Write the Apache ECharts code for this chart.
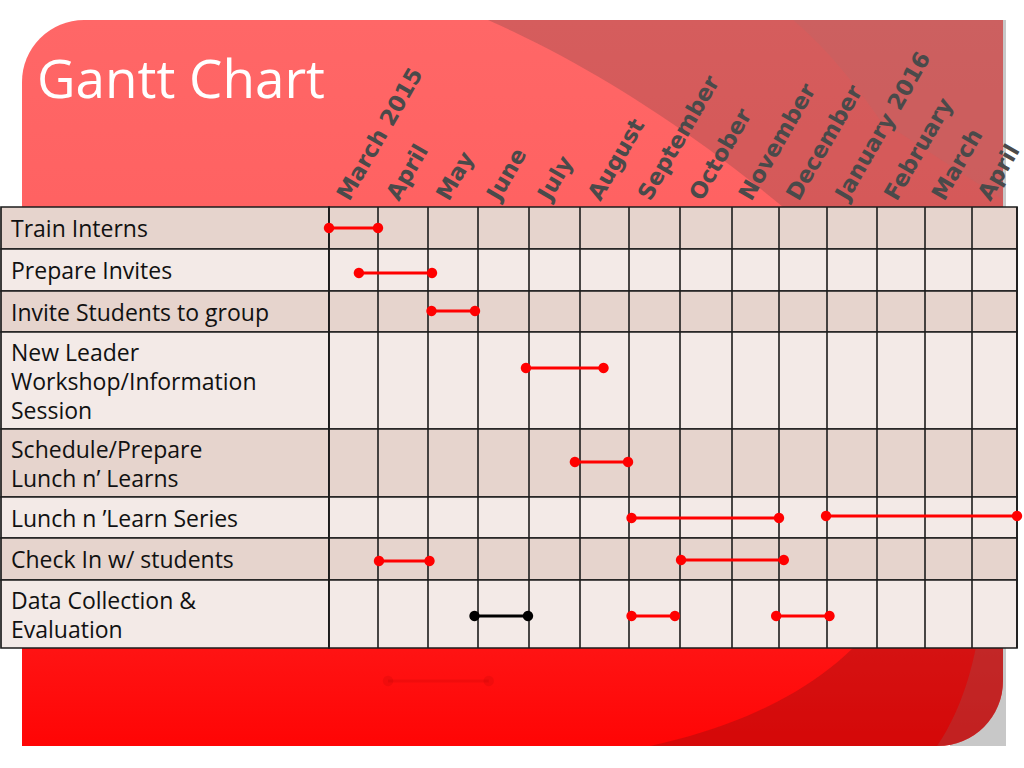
<!DOCTYPE html>
<html>
<head>
<meta charset="utf-8">
<script src="https://cdn.jsdelivr.net/npm/echarts@6/dist/echarts.min.js"></script>
<style>
  html, body { margin: 0; padding: 0; background: #fff; }
  #chart { width: 1024px; height: 768px; }
</style>
</head>
<body>
<div id="chart"></div>
<script>
// ---- data ----
const months = ['March 2015', 'April', 'May', 'June', 'July', 'August', 'September',
  'October', 'November', 'December', 'January 2016', 'February', 'March', 'April'];
// relative width of each month column in the table
const colWidths = [49, 50, 50, 51, 51, 49, 51, 52, 47, 48, 50, 48, 47, 45];
const taskLabels = [
  'Train Interns',
  'Prepare Invites',
  'Invite Students to group',
  'New Leader\nWorkshop/Information\nSession',
  'Schedule/Prepare\nLunch n\u2019 Learns',
  'Lunch n \u2019Learn Series',
  'Check In w/ students',
  'Data Collection &\nEvaluation'
];
// relative height of each task row
const rowHeights = [42, 42, 41, 97, 68, 41, 42, 68];
// segments: start / end in months from March 2015 (fractional), row-axis value, status
const segStart = [0, 0.61, 2.07, 3.94, 4.90, 6.05, 9.98, 1.02, 7.02, 2.93, 6.05, 8.94, 1.20];
const segEnd   = [1.0, 2.08, 2.94, 5.48, 5.98, 9.00, 14.0, 2.03, 9.10, 3.98, 6.90, 10.05, 3.21];
const segY     = [21, 66, 104, 161, 255, 311, 309, 354, 353, 409, 409, 409, 474];
const segStatus = ['plan', 'plan', 'plan', 'plan', 'plan', 'plan', 'plan', 'plan', 'plan', 'done', 'plan', 'plan', 'ghost'];

// ---- derived ----
const colEdges = [0];
colWidths.forEach(w => colEdges.push(colEdges[colEdges.length - 1] + w));
const rowEdges = [0];
rowHeights.forEach(h => rowEdges.push(rowEdges[rowEdges.length - 1] + h));
const tableW = colEdges[colEdges.length - 1];
const tableH = rowEdges[rowEdges.length - 1];
const colCenters = colWidths.map((w, i) => colEdges[i] + w / 2);
// rotated month labels start slightly left of each column centre
const labelAnchors = colCenters.map(c => c - 6);
function toUnits(m) {
  const i = Math.min(Math.floor(m), colWidths.length - 1);
  return colEdges[i] + (m - i) * colWidths[i];
}
const rowData = rowHeights.map((h, i) => [rowEdges[i], rowEdges[i + 1], i]);
const segData = segStart.map((s, k) => [toUnits(s), toUnits(segEnd[k]), segY[k], k]);

// decorative background helpers
function quad(p0, c, p1, n) {
  const pts = [];
  for (let i = 0; i <= n; i++) {
    const t = i / n, u = 1 - t;
    pts.push([u * u * p0[0] + 2 * u * t * c[0] + t * t * p1[0], u * u * p0[1] + 2 * u * t * c[1] + t * t * p1[1]]);
  }
  return pts;
}
const cornerArc = []; // bottom-right corner of the slide shape
for (let i = 0; i <= 16; i++) {
  const a = (Math.PI / 2) * i / 16;
  cornerArc.push([938 + 65 * Math.cos(a), 681 + 65 * Math.sin(a)]);
}
const topOverlay = quad([488, 20], [635, 85], [783, 207], 24).concat([[860, 290], [1003, 290], [1003, 20]]);
const topOverlay2 = quad([793, 20], [835, 55], [880, 120], 16).concat([[1003, 200], [1003, 20]]);
const botOverlay = [[650, 746]].concat(quad([650, 746], [782, 717], [853, 648], 20).slice(1))
  .concat([[870, 630], [1003, 630]]).concat(cornerArc);
const botStrip = quad([979, 630], [968, 700], [937, 746], 16).concat(cornerArc.slice().reverse()).concat([[1003, 630]]);

const DARK_ROW = '#e6d4cd';
const LIGHT_ROW = '#f3eae7';
const LINE = '#1c1c1c';
const STATUS_COLOR = { plan: '#ff0000', done: '#000000', ghost: 'rgba(150,0,0,0.13)' };

const chart = echarts.init(document.getElementById('chart'), null, { renderer: 'svg' });

const option = {
  backgroundColor: '#ffffff',
  animation: false,
  title: {
    text: 'Gantt Chart',
    left: 32,
    top: 46,
    textStyle: { fontFamily: 'Open Sans', fontSize: 53, fontWeight: 'normal', color: '#ffffff' }
  },
  graphic: {
    elements: [
      { type: 'rect', z: -20, silent: true, shape: { x: 950, y: 20, width: 56, height: 726 }, style: { fill: '#c8c8c8' } },
      { type: 'rect', z: -19, silent: true, shape: { x: 22, y: 20, width: 981, height: 726, r: [62, 0, 65, 0] },
        style: { fill: { type: 'linear', x: 0, y: 0, x2: 0, y2: 1, colorStops: [
          { offset: 0, color: '#ff6767' }, { offset: 0.25, color: '#ff6262' },
          { offset: 0.86, color: '#ff1414' }, { offset: 1, color: '#ff0505' } ] } } },
      { type: 'polygon', z: -18, silent: true, shape: { points: topOverlay }, style: { fill: 'rgba(115,69,69,0.3)' } },
      { type: 'polygon', z: -17, silent: true, shape: { points: topOverlay2 }, style: { fill: 'rgba(168,112,112,0.2)' } },
      { type: 'polygon', z: -18, silent: true, shape: { points: botOverlay }, style: { fill: 'rgba(115,18,18,0.3)' } },
      { type: 'polygon', z: -17, silent: true, shape: { points: botStrip }, style: { fill: 'rgba(153,91,91,0.3)' } }
    ]
  },
  grid: [
    { left: 1, top: 207, width: 328, height: tableH, containLabel: false, outerBoundsMode: 'none' },
    { left: 329, top: 207, width: tableW, height: tableH, containLabel: false, outerBoundsMode: 'none' }
  ],
  xAxis: [
    { gridIndex: 0, type: 'value', min: 0, max: 1, show: false },
    { gridIndex: 1, type: 'value', min: 0, max: tableW, position: 'top',
      axisLine: { show: false }, axisTick: { show: false }, splitLine: { show: false },
      axisLabel: {
        customValues: labelAnchors,
        formatter: function (v) {
          let best = 0;
          labelAnchors.forEach((c, i) => { if (Math.abs(c - v) < Math.abs(labelAnchors[best] - v)) best = i; });
          return months[best];
        },
        rotate: 60, align: 'left', verticalAlign: 'bottom', lineHeight: 12, margin: 6,
        fontFamily: 'DejaVu Sans', fontWeight: 'bold', fontSize: 22.5, color: '#4a4a4a',
        textShadowColor: 'rgba(0,0,0,0.95)', textShadowOffsetX: 1.2, textShadowOffsetY: 1.5, textShadowBlur: 0
      }
    }
  ],
  yAxis: [
    { gridIndex: 0, type: 'value', min: 0, max: tableH, inverse: true, show: false },
    { gridIndex: 1, type: 'value', min: 0, max: tableH, inverse: true, show: false }
  ],
  series: [
    {
      type: 'custom', name: 'labels', xAxisIndex: 0, yAxisIndex: 0, clip: false, silent: true,
      data: rowData,
      renderItem: function (params, api) {
        const i = api.value(2);
        const p0 = api.coord([0, api.value(0)]);
        const p1 = api.coord([1, api.value(1)]);
        return {
          type: 'group',
          children: [
            { type: 'rect', shape: { x: p0[0], y: p0[1], width: p1[0] - p0[0], height: p1[1] - p0[1] },
              style: { fill: i % 2 ? LIGHT_ROW : DARK_ROW, stroke: LINE, lineWidth: 1.7 } },
            { type: 'text', style: { text: taskLabels[i], x: p0[0] + 10, y: (p0[1] + p1[1]) / 2,
              align: 'left', verticalAlign: 'middle', fontFamily: 'Open Sans', fontSize: 23,
              lineHeight: 29, fill: '#111111' } }
          ]
        };
      }
    },
    {
      type: 'custom', name: 'cells', xAxisIndex: 1, yAxisIndex: 1, clip: false, silent: true,
      data: rowData,
      renderItem: function (params, api) {
        const i = api.value(2);
        const top = api.value(0), bottom = api.value(1);
        const p0 = api.coord([0, top]);
        const p1 = api.coord([tableW, bottom]);
        const children = [
          { type: 'rect', shape: { x: p0[0], y: p0[1], width: p1[0] - p0[0], height: p1[1] - p0[1] },
            style: { fill: i % 2 ? LIGHT_ROW : DARK_ROW, stroke: LINE, lineWidth: 1.7 } }
        ];
        colEdges.forEach(e => {
          const a = api.coord([e, top]);
          const b = api.coord([e, bottom]);
          children.push({ type: 'line', shape: { x1: a[0], y1: a[1], x2: b[0], y2: b[1] },
            style: { stroke: LINE, lineWidth: 1.6 } });
        });
        return { type: 'group', children: children };
      }
    },
    {
      type: 'custom', name: 'tasks', xAxisIndex: 1, yAxisIndex: 1, clip: false, silent: true, z: 5,
      data: segData,
      renderItem: function (params, api) {
        const k = api.value(3);
        const a = api.coord([api.value(0), api.value(2)]);
        const b = api.coord([api.value(1), api.value(2)]);
        const c = STATUS_COLOR[segStatus[k]];
        return {
          type: 'group',
          children: [
            { type: 'line', shape: { x1: a[0], y1: a[1], x2: b[0], y2: b[1] }, style: { stroke: c, lineWidth: 3.2 } },
            { type: 'circle', shape: { cx: a[0], cy: a[1], r: 5.2 }, style: { fill: c } },
            { type: 'circle', shape: { cx: b[0], cy: b[1], r: 5.2 }, style: { fill: c } }
          ]
        };
      }
    }
  ]
};
chart.setOption(option);
</script>
</body>
</html>
